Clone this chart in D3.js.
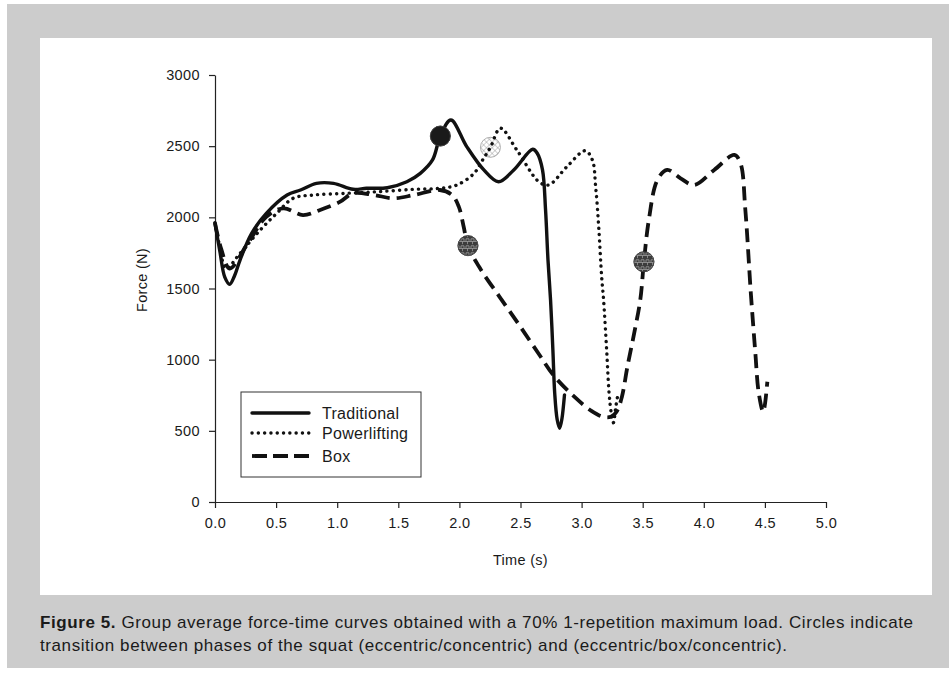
<!DOCTYPE html>
<html>
<head>
<meta charset="utf-8">
<script src="https://cdn.jsdelivr.net/npm/d3@7/dist/d3.min.js"></script>
<style>
	body { margin: 0; background: #fff; }
	text { font-family: "Liberation Sans", Arial, Helvetica, sans-serif; fill: #1a1a1a; }
</style>
</head>
<body>
<svg id="chart" width="949" height="678"></svg>
<script>
'use strict';

// (time in s, force in N)
var timeTraditional  = [0, 0.04, 0.08, 0.12, 0.16, 0.205, 0.30, 0.42, 0.59, 0.70, 0.83, 0.97, 1.13, 1.24, 1.41, 1.57, 1.68, 1.78, 1.844, 1.93, 2.06, 2.20, 2.32, 2.445, 2.60, 2.637, 2.68, 2.705, 2.725, 2.746, 2.765, 2.78, 2.80, 2.82, 2.84, 2.86];
var forceTraditional = [1960, 1760, 1580, 1530, 1590, 1700, 1888, 2028, 2157, 2192, 2239, 2239, 2197, 2204, 2208, 2250, 2309, 2403, 2571, 2684, 2497, 2333, 2250, 2333, 2478, 2450, 2333, 2052, 1700, 1419, 1068, 764, 580, 518, 590, 752];

var timePowerlifting  = [0, 0.04, 0.09, 0.205, 0.37, 0.505, 0.64, 0.81, 1.08, 1.35, 1.63, 1.84, 1.98, 2.12, 2.19, 2.254, 2.336, 2.47, 2.65, 2.73, 2.88, 3.03, 3.088, 3.115, 3.14, 3.164, 3.18, 3.205, 3.225, 3.243, 3.26, 3.28, 3.30];
var forcePowerlifting = [1960, 1790, 1640, 1747, 1911, 2028, 2134, 2157, 2169, 2181, 2197, 2204, 2227, 2309, 2403, 2492, 2626, 2473, 2250, 2227, 2356, 2468, 2403, 2215, 1934, 1583, 1419, 1068, 764, 623, 557, 670, 768];

var timeBox  = [0, 0.05, 0.12, 0.26, 0.42, 0.56, 0.72, 0.86, 1.025, 1.13, 1.30, 1.46, 1.63, 1.84, 1.94, 1.995, 2.035, 2.07, 2.17, 2.33, 2.50, 2.65, 2.77, 2.94, 3.08, 3.17, 3.24, 3.29, 3.33, 3.375, 3.43, 3.48, 3.51, 3.55, 3.62, 3.70, 3.81, 3.92, 4.085, 4.25, 4.30, 4.34, 4.385, 4.42, 4.45, 4.486, 4.52];
var forceBox = [1960, 1780, 1640, 1806, 2004, 2063, 2016, 2052, 2110, 2169, 2157, 2134, 2157, 2192, 2157, 2075, 1934, 1801, 1640, 1440, 1230, 1040, 890, 740, 640, 600, 599, 640, 740, 951, 1185, 1419, 1688, 1981, 2262, 2333, 2274, 2227, 2333, 2438, 2380, 2052, 1466, 1068, 764, 634, 845];

// phase transition circles
var markerSeries = ['Traditional', 'Powerlifting', 'Box', 'Box'];
var markerTime   = [1.844, 2.254, 2.07, 3.51];
var markerForce  = [2571, 2492, 1801, 1688];

var seriesNames = ['Traditional', 'Powerlifting', 'Box'];
var xTicks = [0, 0.5, 1, 1.5, 2, 2.5, 3, 3.5, 4, 4.5, 5];
var yTicks = [0, 500, 1000, 1500, 2000, 2500, 3000];

var captionBold  = 'Figure 5.';
var captionLine1 = 'Group average force-time curves obtained with a 70% 1-repetition maximum load. Circles indicate';
var captionLine2 = 'transition between phases of the squat (eccentric/concentric) and (eccentric/box/concentric).';

var svg = d3.select('#chart');

var x = d3.scaleLinear().domain([0, 5]).range([215, 826]);
var y = d3.scaleLinear().domain([0, 3000]).range([502, 75]);

var styles = {
	Traditional : { width: 3.4, dash: null, cap: 'round' },
	Powerlifting: { width: 3.4, dash: '0.1 6.2', cap: 'round' },
	Box         : { width: 3.8, dash: '14 7', cap: 'butt' }
};

function zip(t, f) {
	return t.map(function (d, i) { return { t: d, f: f[i] }; });
}

var series = [
	{ name: 'Traditional', points: zip(timeTraditional, forceTraditional) },
	{ name: 'Powerlifting', points: zip(timePowerlifting, forcePowerlifting) },
	{ name: 'Box', points: zip(timeBox, forceBox) }
];

// backdrop: grey page with white figure panel
svg.append('rect')
	.attr('x', 7).attr('y', 4)
	.attr('width', 942).attr('height', 664)
	.attr('fill', '#cccccc');

svg.append('rect')
	.attr('x', 40).attr('y', 38)
	.attr('width', 892).attr('height', 557)
	.attr('fill', '#ffffff');

// patterns for the transition circles
var defs = svg.append('defs');

var hatch = defs.append('pattern')
	.attr('id', 'hatch')
	.attr('patternUnits', 'userSpaceOnUse')
	.attr('width', 4).attr('height', 4)
	.attr('patternTransform', 'rotate(45)');
hatch.append('rect').attr('width', 4).attr('height', 4).attr('fill', '#fff');
hatch.append('path').attr('d', 'M0,0V4M0,0H4')
	.attr('stroke', '#8a8a8a').attr('stroke-width', 0.8);

var brick = defs.append('pattern')
	.attr('id', 'brick')
	.attr('patternUnits', 'userSpaceOnUse')
	.attr('width', 5).attr('height', 7);
brick.append('rect').attr('width', 5).attr('height', 7).attr('fill', '#3c3c3c');
brick.append('path').attr('d', 'M0,3.5H5M1,3.5V0.8H4V3.5M2.5,3.5V6.2')
	.attr('fill', 'none')
	.attr('stroke', '#9a9a9a').attr('stroke-width', 0.8);

// axes
var yAxis = d3.axisLeft(y)
	.tickValues(yTicks)
	.tickFormat(d3.format('d'))
	.tickSize(6)
	.tickSizeOuter(0)
	.tickPadding(9);

var xAxis = d3.axisBottom(x)
	.tickValues(xTicks)
	.tickFormat(d3.format('.1f'))
	.tickSize(6)
	.tickSizeOuter(0)
	.tickPadding(10);

var gy = svg.append('g')
	.attr('transform', 'translate(' + x(0) + ',0)')
	.call(yAxis);

var gx = svg.append('g')
	.attr('transform', 'translate(0,' + y(0) + ')')
	.call(xAxis);

[gx, gy].forEach(function (g) {
	g.selectAll('path, line').attr('stroke', '#222').attr('stroke-width', 1.2);
	g.selectAll('text')
		.attr('fill', '#1a1a1a')
		.style('font-family', '"Liberation Sans", Arial, sans-serif')
		.style('font-size', '14.5px')
		.style('letter-spacing', '0.4px');
});

svg.append('text')
	.attr('x', (x(0) + x(5)) / 2)
	.attr('y', 565)
	.attr('text-anchor', 'middle')
	.style('font-size', '14.5px')
	.style('letter-spacing', '0.3px')
	.text('Time (s)');

svg.append('text')
	.attr('transform', 'translate(147,' + 280 + ') rotate(-90)')
	.attr('text-anchor', 'middle')
	.style('font-size', '14.5px')
	.style('letter-spacing', '0.3px')
	.text('Force (N)');

// curves
var line = d3.line()
	.x(function (d) { return x(d.t); })
	.y(function (d) { return y(d.f); })
	.curve(d3.curveCatmullRom.alpha(0.5));

var markerFill = {
	Traditional : '#1a1a1a',
	Powerlifting: 'url(#hatch)',
	Box         : 'url(#brick)'
};

var markers = markerTime.map(function (t, i) {
	return { name: markerSeries[i], t: t, f: markerForce[i] };
});

// all circles under the lines first, so the dotted line shows through the hatched one
svg.selectAll('.marker')
	.data(markers)
	.enter().append('circle')
	.attr('class', 'marker')
	.attr('cx', function (d) { return x(d.t); })
	.attr('cy', function (d) { return y(d.f); })
	.attr('r', 10)
	.attr('fill', function (d) { return markerFill[d.name]; })
	.attr('stroke', function (d) { return d.name === 'Powerlifting' ? '#9a9a9a' : '#444'; })
	.attr('stroke-width', 0.8);

svg.selectAll('.series')
	.data(series)
	.enter().append('path')
	.attr('class', 'series')
	.attr('d', function (d) { return line(d.points); })
	.attr('fill', 'none')
	.attr('stroke', '#111')
	.attr('stroke-width', function (d) { return styles[d.name].width; })
	.attr('stroke-dasharray', function (d) { return styles[d.name].dash; })
	.attr('stroke-linecap', function (d) { return styles[d.name].cap; })
	.attr('stroke-linejoin', 'round');

// solid and box circles drawn over their lines
svg.selectAll('.marker-top')
	.data(markers.filter(function (d) { return d.name !== 'Powerlifting'; }))
	.enter().append('circle')
	.attr('class', 'marker-top')
	.attr('cx', function (d) { return x(d.t); })
	.attr('cy', function (d) { return y(d.f); })
	.attr('r', 10)
	.attr('fill', function (d) { return markerFill[d.name]; })
	.attr('stroke', '#444')
	.attr('stroke-width', 0.8);

// legend
var legend = svg.append('g').attr('transform', 'translate(241,392)');

legend.append('rect')
	.attr('width', 180).attr('height', 85)
	.attr('fill', '#fff')
	.attr('stroke', '#333')
	.attr('stroke-width', 1);

var item = legend.selectAll('.item')
	.data(seriesNames)
	.enter().append('g')
	.attr('class', 'item')
	.attr('transform', function (d, i) { return 'translate(0,' + [21, 41, 64][i] + ')'; });

item.append('line')
	.attr('x1', 11).attr('x2', 68)
	.attr('stroke', '#111')
	.attr('stroke-width', function (d) { return styles[d].width; })
	.attr('stroke-dasharray', function (d) { return d === 'Box' ? '15 6' : styles[d].dash; })
	.attr('stroke-linecap', function (d) { return styles[d].cap; });

item.append('text')
	.attr('x', 81)
	.attr('dy', '0.36em')
	.style('font-size', '16px')
	.style('letter-spacing', '0.3px')
	.text(function (d) { return d; });

// caption, spread to the width it has in the figure
var caption = svg.append('g').style('font-size', '17px');

var c1 = caption.append('text')
	.attr('x', 40).attr('y', 628)
	.attr('textLength', 873)
	.attr('lengthAdjust', 'spacing');
c1.append('tspan').style('font-weight', 'bold').text(captionBold);
c1.append('tspan').text('\u00a0' + captionLine1);

caption.append('text')
	.attr('x', 40).attr('y', 651)
	.attr('textLength', 747)
	.attr('lengthAdjust', 'spacing')
	.text(captionLine2);
</script>
</body>
</html>
